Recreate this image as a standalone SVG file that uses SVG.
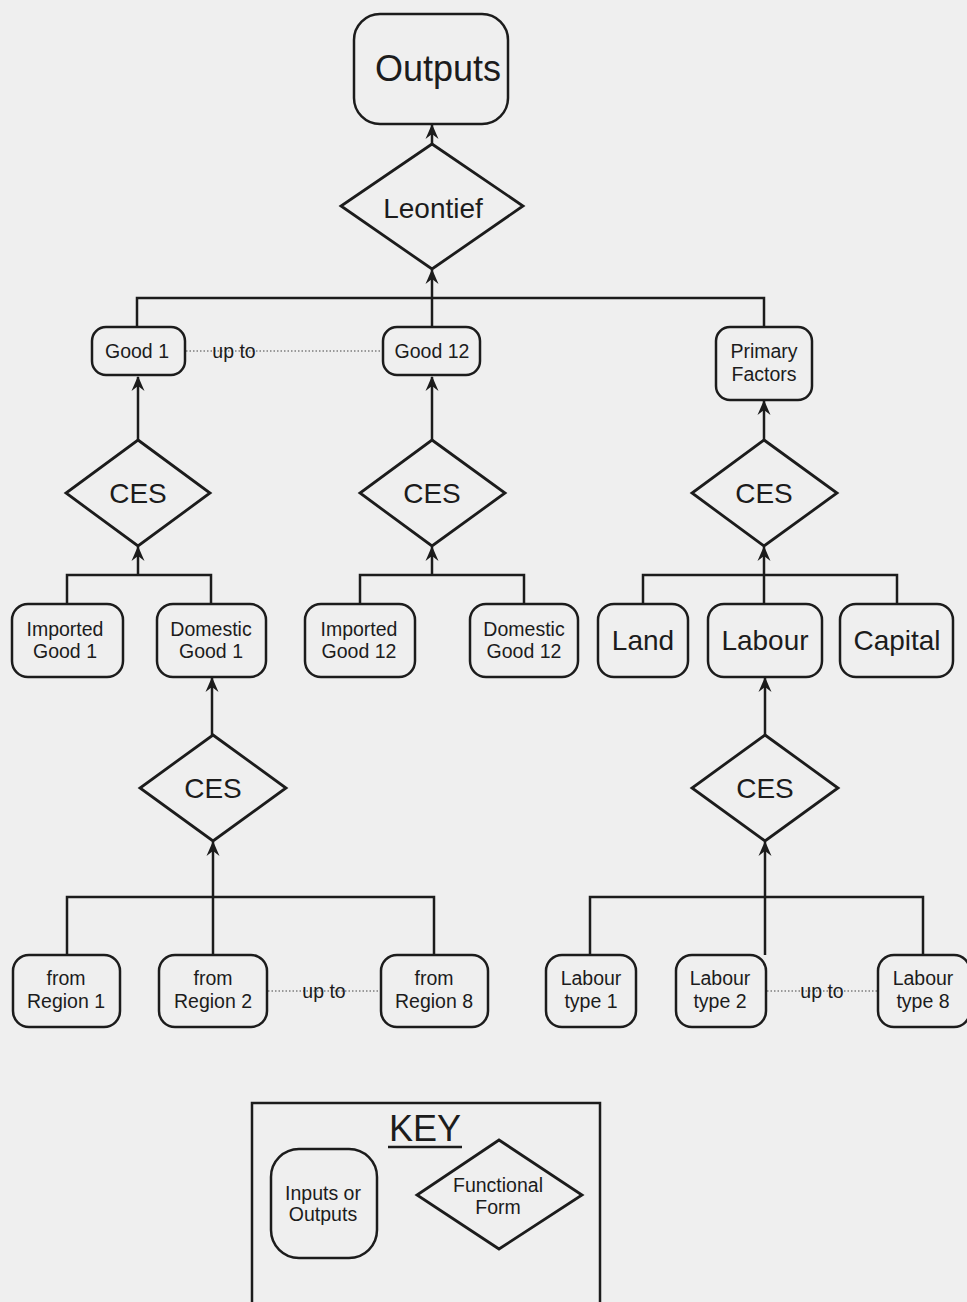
<svg xmlns="http://www.w3.org/2000/svg" width="967" height="1302" viewBox="0 0 967 1302">
<style>
.box{fill:none;stroke:#1c1c1c;stroke-width:2.5}
.dia{fill:none;stroke:#1c1c1c;stroke-width:2.8;stroke-linejoin:miter}
.ln{fill:none;stroke:#1c1c1c;stroke-width:2.5}
.dot{fill:none;stroke:#444;stroke-width:1.2;stroke-dasharray:1.5,2}
text{font-family:"Liberation Sans",Arial,sans-serif;fill:#1c1c1c;text-anchor:middle}
.s{font-size:19.5px}
.l{font-size:28px}
.xl{font-size:36px}
</style>
<defs>
<marker id="ah" viewBox="0 0 15 14" refX="14" refY="7" markerWidth="15" markerHeight="14" markerUnits="userSpaceOnUse" orient="auto">
<path d="M0,0.5 L15,7 L0,13.5 L5,7 Z" fill="#1c1c1c"/>
</marker>
</defs>
<rect width="967" height="1302" fill="#efefef"/>

<g id="connectors">
<line class="ln" x1="432" y1="144" x2="432" y2="125" marker-end="url(#ah)"/>
<polyline class="ln" points="137,327 137,298 764,298 764,327"/>
<line class="ln" x1="432" y1="327" x2="432" y2="270" marker-end="url(#ah)"/>
<line class="ln" x1="138" y1="440" x2="138" y2="377" marker-end="url(#ah)"/>
<line class="ln" x1="432" y1="440" x2="432" y2="377" marker-end="url(#ah)"/>
<line class="ln" x1="764" y1="440" x2="764" y2="401" marker-end="url(#ah)"/>
<polyline class="ln" points="67,604 67,575 211,575 211,604"/>
<line class="ln" x1="138" y1="575" x2="138" y2="547" marker-end="url(#ah)"/>
<polyline class="ln" points="360,604 360,575 524,575 524,604"/>
<line class="ln" x1="432" y1="575" x2="432" y2="547" marker-end="url(#ah)"/>
<polyline class="ln" points="643,604 643,575 897,575 897,604"/>
<line class="ln" x1="764" y1="604" x2="764" y2="547" marker-end="url(#ah)"/>
<line class="ln" x1="212" y1="735" x2="212" y2="678" marker-end="url(#ah)"/>
<line class="ln" x1="765" y1="735" x2="765" y2="678" marker-end="url(#ah)"/>
<polyline class="ln" points="67,955 67,897 434,897 434,955"/>
<line class="ln" x1="213" y1="955" x2="213" y2="842" marker-end="url(#ah)"/>
<polyline class="ln" points="590,955 590,897 923,897 923,955"/>
<line class="ln" x1="765" y1="955" x2="765" y2="842" marker-end="url(#ah)"/>
<line class="dot" x1="186" y1="351" x2="383" y2="351"/>
<line class="dot" x1="268" y1="991" x2="381" y2="991"/>
<line class="dot" x1="767" y1="991" x2="878" y2="991"/>
<text class="s" x="234" y="358">up to</text>
<text class="s" x="324" y="998">up to</text>
<text class="s" x="822" y="998">up to</text>
</g>

<g id="outputs"><rect class="box" x="354" y="14" width="154" height="110" rx="26"/><text class="xl" x="438" y="81">Outputs</text></g>
<g id="leontief"><polygon class="dia" points="432,144 523,206 432,269 341,206"/><text class="l" x="433" y="218">Leontief</text></g>

<g id="good1"><rect class="box" x="92" y="327" width="93" height="48" rx="14"/><text class="s" x="137" y="358">Good 1</text></g>
<g id="good12"><rect class="box" x="383" y="327" width="97" height="48" rx="14"/><text class="s" x="432" y="358">Good 12</text></g>
<g id="primary"><rect class="box" x="716" y="327" width="96" height="73" rx="14"/><text class="s" x="764" y="358">Primary</text><text class="s" x="764" y="381">Factors</text></g>

<g id="ces1"><polygon class="dia" points="138,440 210,493 138,546 66,493"/><text class="l" x="138" y="503">CES</text></g>
<g id="ces2"><polygon class="dia" points="432,440 505,493 432,546 360,493"/><text class="l" x="432" y="503">CES</text></g>
<g id="ces3"><polygon class="dia" points="764,440 837,493 764,546 692,493"/><text class="l" x="764" y="503">CES</text></g>

<g id="imported1"><rect class="box" x="12" y="604" width="111" height="73" rx="16"/><text class="s" x="65" y="636">Imported</text><text class="s" x="65" y="658">Good 1</text></g>
<g id="domestic1"><rect class="box" x="157" y="604" width="109" height="73" rx="16"/><text class="s" x="211" y="636">Domestic</text><text class="s" x="211" y="658">Good 1</text></g>
<g id="imported12"><rect class="box" x="305" y="604" width="110" height="73" rx="16"/><text class="s" x="359" y="636">Imported</text><text class="s" x="359" y="658">Good 12</text></g>
<g id="domestic12"><rect class="box" x="470" y="604" width="108" height="73" rx="16"/><text class="s" x="524" y="636">Domestic</text><text class="s" x="524" y="658">Good 12</text></g>
<g id="land"><rect class="box" x="598" y="604" width="90" height="73" rx="16"/><text class="l" x="643" y="650">Land</text></g>
<g id="labour"><rect class="box" x="708" y="604" width="114" height="73" rx="16"/><text class="l" x="765" y="650">Labour</text></g>
<g id="capital"><rect class="box" x="840" y="604" width="113" height="73" rx="16"/><text class="l" x="897" y="650">Capital</text></g>

<g id="ces4"><polygon class="dia" points="213,735 286,788 213,841 140,788"/><text class="l" x="213" y="798">CES</text></g>
<g id="ces5"><polygon class="dia" points="765,735 838,788 765,841 692,788"/><text class="l" x="765" y="798">CES</text></g>

<g id="region1"><rect class="box" x="13" y="955" width="107" height="72" rx="16"/><text class="s" x="66" y="985">from</text><text class="s" x="66" y="1008">Region 1</text></g>
<g id="region2"><rect class="box" x="159" y="955" width="108" height="72" rx="16"/><text class="s" x="213" y="985">from</text><text class="s" x="213" y="1008">Region 2</text></g>
<g id="region8"><rect class="box" x="381" y="955" width="107" height="72" rx="16"/><text class="s" x="434" y="985">from</text><text class="s" x="434" y="1008">Region 8</text></g>
<g id="ltype1"><rect class="box" x="546" y="955" width="90" height="72" rx="16"/><text class="s" x="591" y="985">Labour</text><text class="s" x="591" y="1008">type 1</text></g>
<g id="ltype2"><rect class="box" x="676" y="955" width="90" height="72" rx="16"/><text class="s" x="720" y="985">Labour</text><text class="s" x="720" y="1008">type 2</text></g>
<g id="ltype8"><rect class="box" x="878" y="955" width="92" height="72" rx="16"/><text class="s" x="923" y="985">Labour</text><text class="s" x="923" y="1008">type 8</text></g>

<g id="key">
<rect class="box" x="252" y="1103" width="348" height="220"/>
<text class="xl" x="425" y="1141">KEY</text>
<line x1="388" y1="1147" x2="462" y2="1147" stroke="#1c1c1c" stroke-width="2.5"/>
<rect class="box" x="271" y="1149" width="106" height="109" rx="28"/>
<text class="s" x="323" y="1200">Inputs or</text><text class="s" x="323" y="1221">Outputs</text>
<polygon class="dia" points="499,1140 582,1195 499,1249 417,1195"/>
<text class="s" x="498" y="1192">Functional</text><text class="s" x="498" y="1214">Form</text>
</g>
</svg>
